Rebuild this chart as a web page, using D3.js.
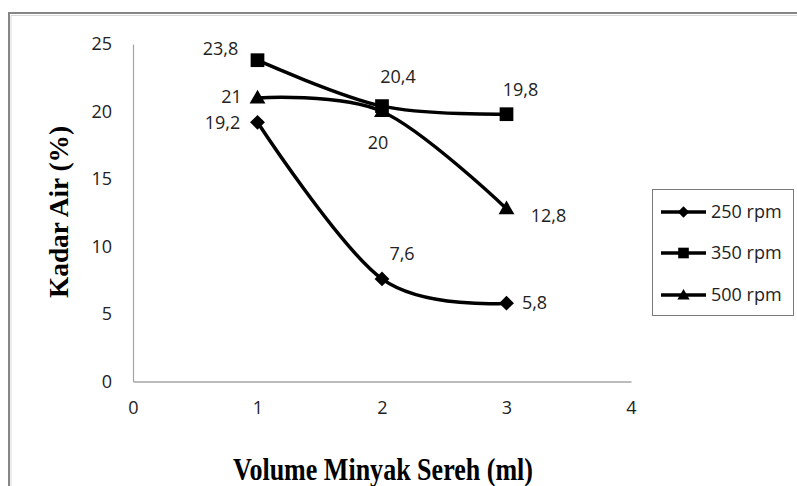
<!DOCTYPE html>
<html><head><meta charset="utf-8">
<script src="https://cdn.jsdelivr.net/npm/d3@7/dist/d3.min.js"></script>
<style>body{margin:0;background:#fff}svg{display:block}</style>
</head><body>
<script>
// ---- data ----
const volumes = [1, 2, 3];
const seriesNames = ["250 rpm", "350 rpm", "500 rpm"];
const rpm250 = [19.2, 7.6, 5.8];
const rpm350 = [23.8, 20.4, 19.8];
const rpm500 = [21, 20, 12.8];
const valueLabels250 = ["19,2", "7,6", "5,8"];
const valueLabels350 = ["23,8", "20,4", "19,8"];
const valueLabels500 = ["21", "20", "12,8"];
const xTicks = [0, 1, 2, 3, 4];
const yTicks = [0, 5, 10, 15, 20, 25];
const xTitle = "Volume Minyak Sereh (ml)";
const yTitle = "Kadar Air (%)";

// ---- layout ----
const W = 797, H = 486;
const svg = d3.select("body").append("svg").attr("width", W).attr("height", H);
const x = d3.scaleLinear().domain([0, 4]).range([133, 631]);
const y = d3.scaleLinear().domain([0, 25]).range([381.5, 44]);
const numFont = "'Open Sans', Lato, sans-serif";
const serif = "'Liberation Serif', 'DejaVu Serif', serif";

// outer chart border (extends beyond canvas right/bottom)
svg.append("rect").attr("x", 9).attr("y", 13).attr("width", 820).attr("height", 520)
  .attr("fill", "none").attr("stroke", "#868686").attr("stroke-width", 2);
svg.append("path").attr("d", `M11,${H} V15.5 H${W}`).attr("fill","none").attr("stroke","#d9d9d9").attr("stroke-width",1);

// axes
const yAxis = d3.axisLeft(y).tickValues(yTicks).tickSize(0).tickPadding(21).tickFormat(d3.format("d"));
const gy = svg.append("g").attr("transform", `translate(${x(0)},0)`).call(yAxis);
gy.select(".domain").attr("stroke", "#a6a6a6").attr("stroke-width", 1.2);
gy.selectAll("text").attr("font-family", numFont).attr("font-size", 18).attr("fill", "#222");

const xAxis = d3.axisBottom(x).tickValues(xTicks).tickSize(0).tickPadding(27).tickFormat(d3.format("d"));
const gx = svg.append("g").attr("transform", `translate(0,${y(0)})`).call(xAxis);
gx.select(".domain").attr("stroke", "#a6a6a6").attr("stroke-width", 1.5);
gx.selectAll("text").attr("font-family", numFont).attr("font-size", 18).attr("fill", "#222").attr("dy", "0.3em");

// titles
svg.append("text").attr("x", 383).attr("y", 480).attr("text-anchor", "middle")
  .attr("font-family", serif).attr("font-weight", "bold").attr("font-size", 31)
  .attr("textLength", 300).attr("lengthAdjust", "spacingAndGlyphs").text(xTitle);
svg.append("text").attr("transform", "translate(68,212) rotate(-90)").attr("text-anchor", "middle")
  .attr("font-family", serif).attr("font-weight", "bold").attr("font-size", 27)
  .attr("textLength", 172).attr("lengthAdjust", "spacingAndGlyphs").text(yTitle);

// series
const series = [
  {name: seriesNames[0], values: rpm250, labels: valueLabels250, sym: d3.symbolDiamond2, size: 140},
  {name: seriesNames[1], values: rpm350, labels: valueLabels350, sym: d3.symbolSquare2, size: 240},
  {name: seriesNames[2], values: rpm500, labels: valueLabels500, sym: d3.symbolTriangle2, size: 180}
];
// label offsets (dx, dy) from each point
const labelOffsets = [
  [[-35, 0], [20, -25], [28, -1]],
  [[-37, -12], [16, -29], [14, -25]],
  [[-26, -1], [-4, 31], [42, 7]]
];

const line = d3.line().x((d, i) => x(volumes[i])).y(d => y(d)).curve(d3.curveCatmullRom.alpha(0));

series.forEach((s, si) => {
  svg.append("path").attr("d", line(s.values)).attr("fill", "none")
    .attr("stroke", "#000").attr("stroke-width", 3.5).attr("stroke-linejoin", "round");
});
series.forEach((s, si) => {
  const sym = d3.symbol().type(s.sym).size(s.size);
  s.values.forEach((v, i) => {
    svg.append("path").attr("d", sym()).attr("fill", "#000")
      .attr("transform", `translate(${x(volumes[i])},${y(v) + (si === 2 ? 1 : 0)})`);
    const o = labelOffsets[si][i];
    svg.append("text").attr("x", x(volumes[i]) + o[0]).attr("y", y(v) + o[1])
      .attr("text-anchor", "middle").attr("dy", "0.35em")
      .attr("font-family", numFont).attr("font-size", 18).attr("fill", "#222")
      .text(s.labels[i]);
  });
});

// legend
const lg = svg.append("g");
lg.append("rect").attr("x", 652.5).attr("y", 189.5).attr("width", 141).attr("height", 126)
  .attr("fill", "#fff").attr("stroke", "#7a7a7a").attr("stroke-width", 1);
const rowY = [212, 253, 295];
series.forEach((s, si) => {
  const ry = rowY[si];
  lg.append("line").attr("x1", 661).attr("x2", 706).attr("y1", ry).attr("y2", ry)
    .attr("stroke", "#000").attr("stroke-width", 3.5);
  lg.append("path").attr("d", d3.symbol().type(s.sym).size(s.size * 0.6)())
    .attr("fill", "#000").attr("transform", `translate(683.5,${ry + (si === 2 ? 1 : 0)})`);
  lg.append("text").attr("x", 711).attr("y", ry).attr("dy", "0.35em")
    .attr("font-family", numFont).attr("font-size", 18).attr("fill", "#222").text(s.name);
});
</script>
</body></html>
